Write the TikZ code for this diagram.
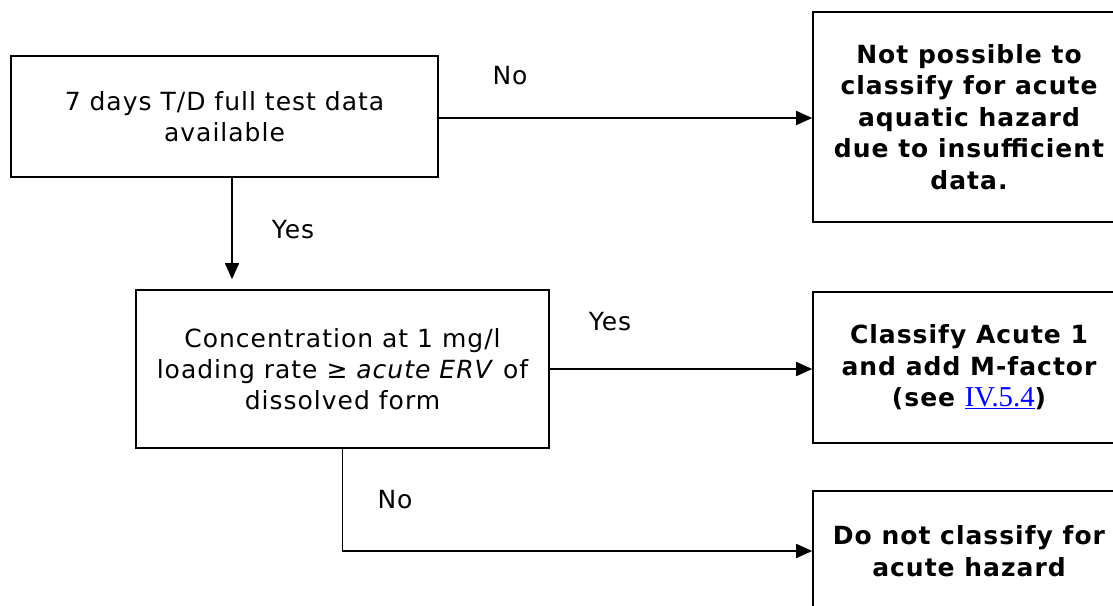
\documentclass[tikz,border=0pt]{standalone}
\usepackage{fontspec}
\setmainfont[LetterSpace=4]{DejaVu Sans}
\newfontfamily\linkfont[Scale=1.15]{Liberation Serif}
\usetikzlibrary{arrows.meta}

\begin{document}
\begin{tikzpicture}[
  x=1pt, y=-1pt,
  box/.style={rectangle, draw=black, line width=1.6pt, align=center,
    font=\fontsize{25}{31}\selectfont, inner sep=0pt},
  boxbold/.style={box, font=\fontsize{25}{31.5}\selectfont\bfseries},
  answer/.style={font=\fontsize{25}{31}\selectfont, inner sep=0pt},
  arrow/.style={-{Triangle[length=16pt,width=14pt]}, line width=1.6pt},
]
\useasboundingbox (0,0) rectangle (1113,605);
\clip (0,0) rectangle (1113,605);

\node[box, minimum width=427pt, minimum height=121pt] (data) at (224.5, 116.5)
  {7 days T/D full test data\\available};

\node[box, minimum width=413pt, minimum height=158pt] (conc) at (342.5, 369)
  {Concentration at 1 mg/l\\loading rate ≥ \textit{acute ERV} of\\dissolved form};

\node[boxbold, minimum width=312pt, minimum height=210pt] (nodata) at (969, 117)
  {Not possible to\\classify for acute\\aquatic hazard\\due to insufficient\\data.};

\node[boxbold, minimum width=312pt, minimum height=151pt] (acute1) at (969, 367.5)
  {Classify Acute 1\\and add M-factor\\(see {\linkfont\mdseries\color{blue}\underline{IV.5.4}})};

\node[boxbold, minimum width=312pt, minimum height=120pt] (noclass) at (969, 551)
  {Do not classify for\\acute hazard};

\draw[arrow] (data.east |- 0,118) -- (nodata.west |- 0,118);
\node[answer] (no1) at (510, 76) {No};

\draw[arrow, shorten >=10pt] ([xshift=7.5pt]data.south) -- ([xshift=7.5pt]data.south |- conc.north);
\node[answer] (yes1) at (293, 230) {Yes};

\draw[arrow] (conc.east) -- (conc.east -| acute1.west);
\node[answer] (yes2) at (610, 322) {Yes};

\draw[arrow] (conc.south) |- (noclass.west);
\node[answer] (no2) at (395, 500) {No};

\end{tikzpicture}
\end{document}
